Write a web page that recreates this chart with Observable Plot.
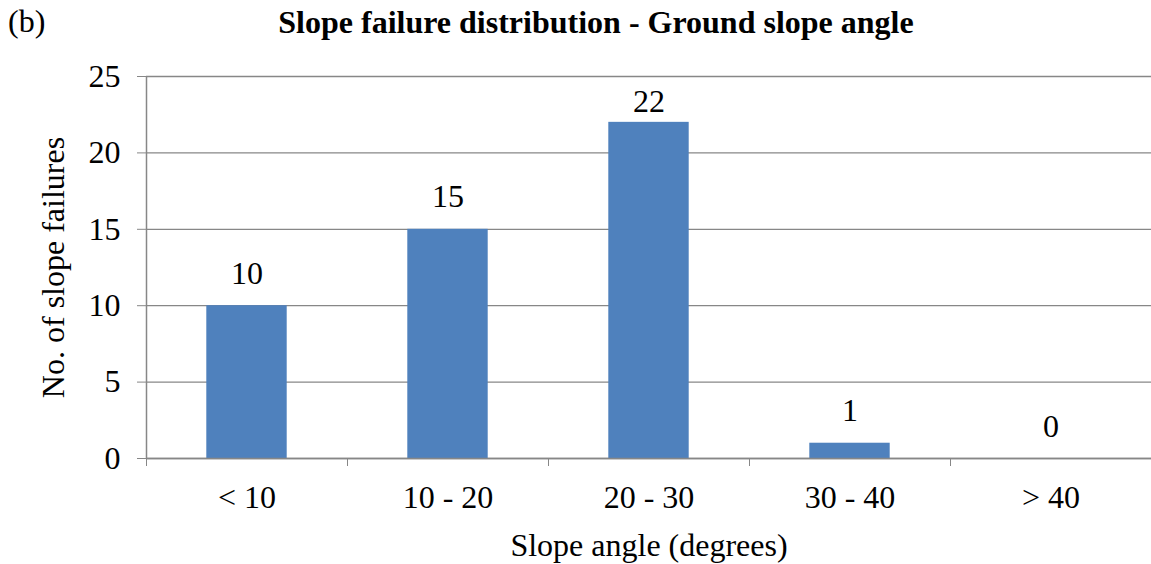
<!DOCTYPE html>
<html>
<head>
<meta charset="utf-8">
<script src="https://cdn.jsdelivr.net/npm/d3@7"></script>
<script src="https://cdn.jsdelivr.net/npm/@observablehq/plot@0.6"></script>
</head>
<body style="margin:0;padding:0;background:white">
<div id="wrap" style="position:relative;width:1151px;height:564px;font-family:'Liberation Serif';color:black">
  <div id="head" style="position:relative;height:50px">
    <div id="tag" style="position:absolute;left:8px;top:5px;font-family:'Liberation Serif';font-size:32px;line-height:1">(b)</div>
    <div id="title" style="position:absolute;left:596px;top:6px;transform:translateX(-50%);font-family:'Liberation Serif';font-size:32px;font-weight:bold;line-height:1;white-space:nowrap">Slope failure distribution - Ground slope angle</div>
  </div>
  <div id="chart"></div>
</div>
<script>
const categories = ["< 10", "10 - 20", "20 - 30", "30 - 40", "> 40"];
const counts = [10, 15, 22, 1, 0];
const yTicks = [0, 5, 10, 15, 20, 25];
const yLabel = "No. of slope failures";
const xLabel = "Slope angle (degrees)";

const data = categories.map((c, i) => ({i, cat: c, n: counts[i]}));
const centers = categories.map((c, i) => i);
const bounds = categories.map((c, i) => i - 0.5).concat([categories.length - 0.5]);
const gray = "#878787";
const ff = "Liberation Serif";
const yMax = 25;
// labels close to the top of the plot area are drawn nearer their bars
const nearTop = d => d.n > yMax - 5;

const plot = Plot.plot({
  width: 1151,
  height: 514,
  marginTop: 26,
  marginBottom: 106,
  marginLeft: 146,
  marginRight: 0,
  style: {fontFamily: ff, fontSize: "32px", background: "white", color: "black", overflow: "visible"},
  x: {type: "linear", domain: [-0.5, categories.length - 0.5]},
  y: {domain: [0, yMax]},
  marks: [
    Plot.gridY(yTicks, {stroke: gray, strokeOpacity: 1, strokeWidth: 1.3}),
    Plot.rectY(data, {x1: d => d.i - 0.2, x2: d => d.i + 0.2, y: "n", fill: "#4F81BD"}),
    Plot.ruleY([0], {stroke: gray, strokeWidth: 1.5}),
    Plot.ruleX([-0.5], {stroke: gray, strokeWidth: 1.5}),
    Plot.axisY(yTicks, {tickSize: 9, tickPadding: 17, stroke: gray, fill: "black", label: null, tickFormat: d => String(d), fontFamily: ff, fontSize: 32}),
    Plot.axisX(bounds, {tickSize: 8, stroke: gray, tickFormat: () => "", label: null}),
    Plot.axisX(centers, {tickSize: 0, tickPadding: 27, fill: "black", tickFormat: i => categories[i], label: null, fontFamily: ff, fontSize: 32}),
    Plot.text(data.filter(d => !nearTop(d)), {x: "i", y: "n", text: d => String(d.n), lineAnchor: "bottom", dy: -22, fill: "black", fontFamily: ff, fontSize: 32}),
    Plot.text(data.filter(nearTop), {x: "i", y: "n", text: d => String(d.n), lineAnchor: "bottom", dy: -10, fill: "black", fontFamily: ff, fontSize: 32}),
    Plot.text([yLabel], {frameAnchor: "left", rotate: -90, dx: -93, textAnchor: "middle", lineAnchor: "middle", fill: "black", fontFamily: ff, fontSize: 32}),
    Plot.text([xLabel], {frameAnchor: "bottom", dy: 87, textAnchor: "middle", lineAnchor: "middle", fill: "black", fontFamily: ff, fontSize: 32})
  ]
});
plot.querySelectorAll("text, g").forEach(el => { el.style.fontFamily = "'Liberation Serif'"; });
plot.style.fontFamily = "'Liberation Serif'";
document.getElementById("chart").appendChild(plot);
</script>
</body>
</html>
